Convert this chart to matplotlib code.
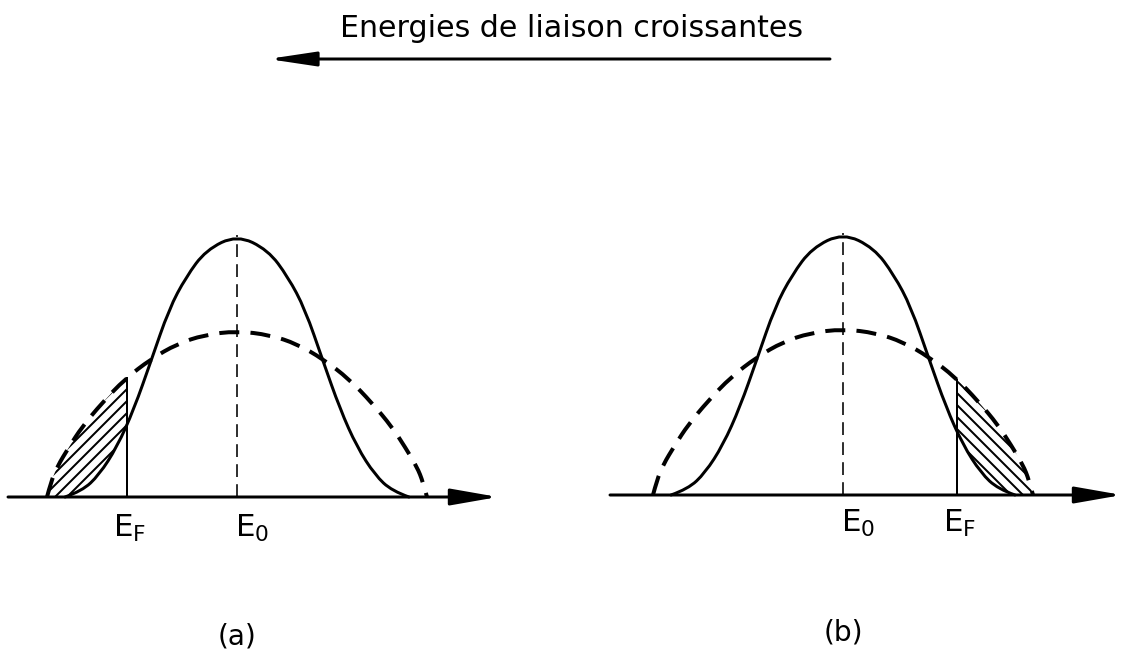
import numpy as np
import matplotlib
matplotlib.use("Agg")
import matplotlib.pyplot as plt
from matplotlib.path import Path
from matplotlib.patches import PathPatch, Polygon, FancyArrowPatch, ArrowStyle

# ---- data: densities of states, energy measured from E0 (arbitrary units) ----
# narrow band (solid line)
narrow_e = [-172, -155, -138, -120, -103, -86, -68, -51, -31, 0, 31, 51, 68, 86, 103, 120, 138, 155, 172]
narrow_n = [0, 6, 22, 50, 88, 136, 188, 220, 247, 262, 247, 220, 188, 136, 88, 50, 22, 6, 0]
# broad band (dashed line)
broad_e = [-190, -186, -180, -168, -155, -135, -112, -86, -60, -33, 0, 33, 60, 86, 112, 135, 155, 168, 180, 186, 190]
broad_n = [0, 15, 30, 50, 70, 94, 118, 138, 153, 162, 166, 162, 153, 138, 118, 94, 70, 50, 30, 15, 0]

# Fermi level position in each case
fermi = {"a": -110, "b": 114}
panel_names = ["(a)", "(b)"]
title = "Energies de liaison croissantes"

W, H, DPI = 1129, 663, 72
plt.rcParams["font.family"] = ["DejaVu Sans"]
plt.rcParams["hatch.linewidth"] = 2.0
fig = plt.figure(figsize=(W / DPI, H / DPI), dpi=DPI)
fig.patch.set_facecolor("white")


def smooth_path(xs, ys):
    """Quadratic B-spline through the control points (ends anchored)."""
    p = np.column_stack([xs, ys]).astype(float)
    verts = [p[0]]
    codes = [Path.MOVETO]
    for i in range(1, len(p) - 1):
        end = p[i + 1] if i == len(p) - 2 else (p[i] + p[i + 1]) / 2
        verts += [p[i], end]
        codes += [Path.CURVE3, Path.CURVE3]
    return Path(np.array(verts), codes)


def flatten(path):
    return path.to_polygons(closed_only=False)[0]


def panel_axes(left_px, right_px, e0_px, base_px):
    ax = fig.add_axes([left_px / W, 0, (right_px - left_px) / W, 1])
    ax.set_xlim(left_px - e0_px, right_px - e0_px)
    ax.set_ylim(base_px - H, base_px)
    ax.axis("off")
    return ax


def branch_height(pts, e, positive):
    br = pts[pts[:, 0] > 0] if positive else pts[pts[:, 0] < 0]
    return np.interp(e, br[:, 0], br[:, 1])


def draw_panel(ax, ef, axis_from, axis_to, label, lab_h, name_h):
    solid = smooth_path(narrow_e, narrow_n)
    dashed = smooth_path(broad_e, broad_n)
    S = flatten(solid)
    D = flatten(dashed)
    high = ef > 0
    hD = branch_height(D, ef, high)
    hS = branch_height(S, ef, high)
    if not high:
        Db, Sb = D[D[:, 0] <= ef], S[S[:, 0] <= ef]
        poly = np.vstack([Db, [[ef, hD], [ef, hS]], Sb[::-1]])
        hatch = "//"
    else:
        Db, Sb = D[D[:, 0] >= ef], S[S[:, 0] >= ef]
        poly = np.vstack([[[ef, hD]], Db, Sb[::-1], [[ef, hS]]])
        hatch = "\\\\"
    ax.add_patch(Polygon(poly, closed=True, facecolor="none", edgecolor="black",
                         linewidth=0, hatch=hatch, zorder=1))

    ax.add_patch(PathPatch(solid, facecolor="none", edgecolor="black", lw=3,
                           capstyle="round", zorder=3))
    ax.add_patch(PathPatch(dashed, facecolor="none", edgecolor="black", lw=4,
                           linestyle=(0, (5, 2.8)), zorder=3))
    # E0 marker
    ax.plot([0, 0], [0, max(narrow_n)], color="black", lw=1.6,
            linestyle=(0, (8, 4.5)), zorder=2)
    # Fermi level
    ax.plot([ef, ef], [0, hD], color="black", lw=2, zorder=2)
    # energy axis
    ax.add_patch(FancyArrowPatch((axis_from, 0), (axis_to, 0),
                                 arrowstyle=ArrowStyle("-|>", head_length=40, head_width=7),
                                 mutation_scale=1, shrinkA=0, shrinkB=0,
                                 lw=3, color="black", zorder=4))
    ax.text(ef + 3, lab_h, r"E$_\mathregular{F}$", fontsize=31, ha="center",
            va="baseline")
    ax.text(15, lab_h, r"E$_\mathregular{0}$", fontsize=31, ha="center",
            va="baseline")
    ax.text(0, name_h, label, fontsize=28, ha="center", va="center")


ax_a = panel_axes(0, 520, 237, 497)
draw_panel(ax_a, fermi["a"], -229, 261, panel_names[0], -40, -140)

ax_b = panel_axes(600, 1129, 843, 495)
draw_panel(ax_b, fermi["b"], -233, 279, panel_names[1], -37, -137)

# direction of increasing binding energy
fig.text(572 / W, 1 - 37 / H, title, fontsize=30, ha="center", va="baseline")
fig.add_artist(FancyArrowPatch((830, H - 59), (268, H - 59), transform=None,
                               arrowstyle=ArrowStyle("-|>", head_length=40, head_width=6),
                               mutation_scale=1, shrinkA=0, shrinkB=0,
                               lw=3, color="black"))

fig.savefig("out.png", dpi=DPI, facecolor="white")
